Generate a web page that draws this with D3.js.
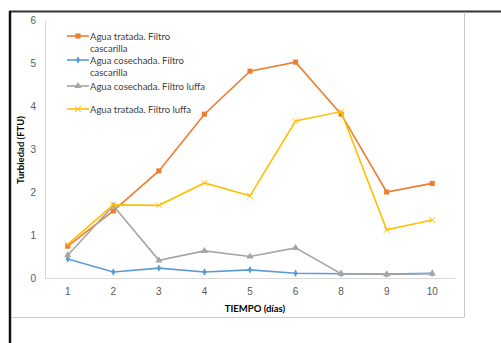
<!DOCTYPE html>
<html>
<head>
    <meta charset="utf-8">
    <title>Turbiedad</title>
    <script type="text/javascript" src="https://d3js.org/d3.v7.min.js"></script>
    <style>
        body { margin: 0; background: #fff; }
        svg { display: block; font-family: Lato, "Open Sans", sans-serif; }
    </style>
</head>
<body>
<script type="text/javascript">
    var w = 501, h = 343;

    // data
    var dias = ["1", "2", "3", "4", "5", "6", "8", "9", "10"];
    var tratadaCascarilla = [0.74, 1.56, 2.49, 3.81, 4.81, 5.02, 3.81, 2.0, 2.2];
    var cosechadaCascarilla = [0.44, 0.14, 0.23, 0.14, 0.19, 0.11, 0.1, 0.09, 0.11];
    var cosechadaLuffa = [0.53, 1.68, 0.41, 0.63, 0.5, 0.7, 0.1, 0.08, 0.1];
    var tratadaLuffa = [0.78, 1.7, 1.69, 2.21, 1.91, 3.65, 3.87, 1.12, 1.35];
    var yTicks = [0, 1, 2, 3, 4, 5, 6];

    var series = [
        { name: ["Agua tratada. Filtro", "cascarilla"], values: tratadaCascarilla, color: "#ED7D31", symbol: d3.symbolSquare, size: 26 },
        { name: ["Agua cosechada. Filtro", "cascarilla"], values: cosechadaCascarilla, color: "#5B9BD5", symbol: d3.symbolDiamond, size: 16 },
        { name: ["Agua cosechada. Filtro luffa"], values: cosechadaLuffa, color: "#A5A5A5", symbol: d3.symbolTriangle, size: 22 },
        { name: ["Agua tratada. Filtro luffa"], values: tratadaLuffa, color: "#FFC000", symbol: d3.symbolTimes, size: 24 }
    ];

    var margin = { left: 45, right: 455, top: 20, bottom: 278 };

    var svg = d3.select("body").append("svg")
        .attr("width", w)
        .attr("height", h);

    // outer frame
    svg.append("line").attr("x1", 9).attr("x2", w).attr("y1", 11.5).attr("y2", 11.5)
        .attr("stroke", "#333").attr("stroke-width", 2);
    svg.append("line").attr("x1", 10).attr("x2", 10).attr("y1", 11).attr("y2", h)
        .attr("stroke", "#111").attr("stroke-width", 2.5);
    svg.append("line").attr("x1", 11).attr("x2", 464.5).attr("y1", 317.5).attr("y2", 317.5)
        .attr("stroke", "#c8c8c8").attr("stroke-width", 1);
    svg.append("line").attr("x1", 464.5).attr("x2", 464.5).attr("y1", 12).attr("y2", 317.5)
        .attr("stroke", "#c8c8c8").attr("stroke-width", 1);

    var x = d3.scaleBand().domain(dias).range([margin.left, margin.right]);
    var y = d3.scaleLinear().domain([0, 6]).range([margin.bottom, margin.top]);

    // y axis
    var yAxis = svg.append("g")
        .attr("transform", "translate(" + margin.left + ",0)")
        .call(d3.axisLeft(y).tickValues(yTicks).tickFormat(d3.format("d")).tickSize(0).tickPadding(9));
    yAxis.select(".domain").attr("stroke", "#d9d9d9");
    yAxis.selectAll("text").attr("font-size", 10).attr("fill", "#595959");

    // x axis
    var xAxis = svg.append("g")
        .attr("transform", "translate(0," + margin.bottom + ")")
        .call(d3.axisBottom(x).tickSize(0).tickPadding(10));
    xAxis.select(".domain").attr("stroke", "#d9d9d9");
    xAxis.selectAll("text").attr("font-size", 10).attr("fill", "#595959");

    // axis titles
    svg.append("text")
        .attr("x", (margin.left + margin.right) / 2 + 5)
        .attr("y", 312)
        .attr("text-anchor", "middle")
        .attr("font-size", 9.5)
        .attr("font-weight", "bold")
        .attr("fill", "#000")
        .text("TIEMPO (días)");

    svg.append("text")
        .attr("transform", "translate(24,150) rotate(-90)")
        .attr("text-anchor", "middle")
        .attr("font-size", 9.5)
        .attr("font-weight", "bold")
        .attr("fill", "#000")
        .text("Turbiedad (FTU)");

    var line = d3.line()
        .x(function(d, i) { return x(dias[i]) + x.bandwidth() / 2; })
        .y(function(d) { return y(d); });

    series.forEach(function(s) {
        svg.append("path")
            .datum(s.values)
            .attr("fill", "none")
            .attr("stroke", s.color)
            .attr("stroke-width", 1.6)
            .attr("d", line);

        svg.selectAll(null)
            .data(s.values)
            .enter()
            .append("path")
            .attr("transform", function(d, i) {
                return "translate(" + (x(dias[i]) + x.bandwidth() / 2) + "," + y(d) + ")";
            })
            .attr("d", d3.symbol().type(s.symbol).size(s.size))
            .attr("fill", s.symbol === d3.symbolTimes ? "none" : s.color)
            .attr("stroke", s.symbol === d3.symbolTimes ? s.color : "none")
            .attr("stroke-width", 1);
    });

    // legend
    var legendY = [36, 60, 86, 109];
    series.forEach(function(s, k) {
        var g = svg.append("g").attr("transform", "translate(67," + legendY[k] + ")");
        g.append("line").attr("x1", 0).attr("x2", 22).attr("y1", 0).attr("y2", 0)
            .attr("stroke", s.color).attr("stroke-width", 1.6);
        g.append("path")
            .attr("transform", "translate(11,0)")
            .attr("d", d3.symbol().type(s.symbol).size(s.size))
            .attr("fill", s.symbol === d3.symbolTimes ? "none" : s.color)
            .attr("stroke", s.symbol === d3.symbolTimes ? s.color : "none");
        s.name.forEach(function(t, j) {
            g.append("text")
                .attr("x", 23)
                .attr("y", j * 12 + 3.5)
                .attr("font-size", 9.5)
                .attr("fill", "#404040")
                .text(t);
        });
    });
</script>
</body>
</html>
